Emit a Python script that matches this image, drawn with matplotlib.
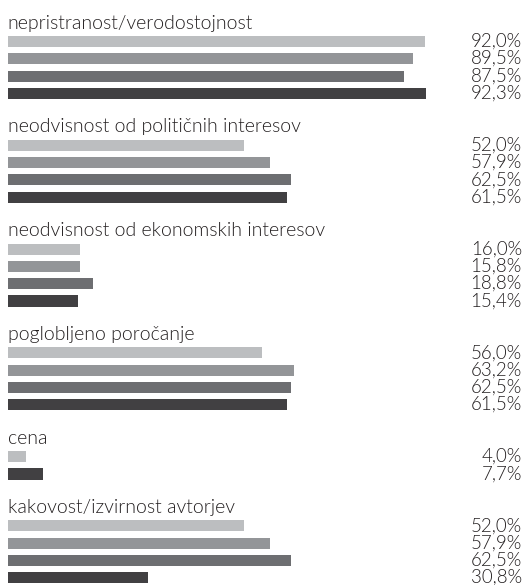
"""Horizontal grouped bars: share of respondents per media quality criterion."""
import matplotlib
matplotlib.use("Agg")
import matplotlib.pyplot as plt
from matplotlib.transforms import blended_transform_factory

categories = [
    "nepristranost/verodostojnost",
    "neodvisnost od političnih interesov",
    "neodvisnost od ekonomskih interesov",
    "poglobljeno poročanje",
    "cena",
    "kakovost/izvirnost avtorjev",
]
# four respondent groups, None = no answer recorded
series_1 = [92.0, 52.0, 16.0, 56.0, 4.0, 52.0]
series_2 = [89.5, 57.9, 15.8, 63.2, None, 57.9]
series_3 = [87.5, 62.5, 18.8, 62.5, None, 62.5]
series_4 = [92.3, 61.5, 15.4, 61.5, 7.7, 30.8]

colors = ["#bcbec0", "#939598", "#6d6e71", "#414042"]
text_color = "#231f20"

W, H = 526, 585
ROW = 17.3          # px between bar centres
FIRST = 41.5        # px from top to first bar centre
X0 = 8              # px where bars start
PX_PER_PCT = 4.53

plt.rcParams["font.family"] = ["Lato", "DejaVu Sans"]

fig = plt.figure(figsize=(W / 100, H / 100), dpi=100)
ax = fig.add_axes([X0 / W, 0, 100 * PX_PER_PCT / W, 1])
ax.set_xlim(0, 100)
ax.set_ylim((H - FIRST) / ROW, -FIRST / ROW)
ax.axis("off")

label_tr = blended_transform_factory(fig.transFigure, ax.transData)

row = 0
for i, cat in enumerate(categories):
    ax.text(-0.1, row - 0.75, cat, ha="left", va="baseline", fontsize=14,
            fontweight=300, color=text_color, clip_on=False)
    vals = [s[i] for s in (series_1, series_2, series_3, series_4)]
    for val, col in zip(vals, colors):
        if val is None:
            continue
        ax.barh(row, val, height=0.64, color=col, linewidth=0)
        ax.text(522 / W, row - 0.02, f"{val:.1f}".replace(".", ",") + "%",
                transform=label_tr, ha="right", va="center", fontsize=13.5,
                fontweight=300, color=text_color, clip_on=False)
        row += 1
    row += 2

fig.savefig("out.png", dpi=100)
